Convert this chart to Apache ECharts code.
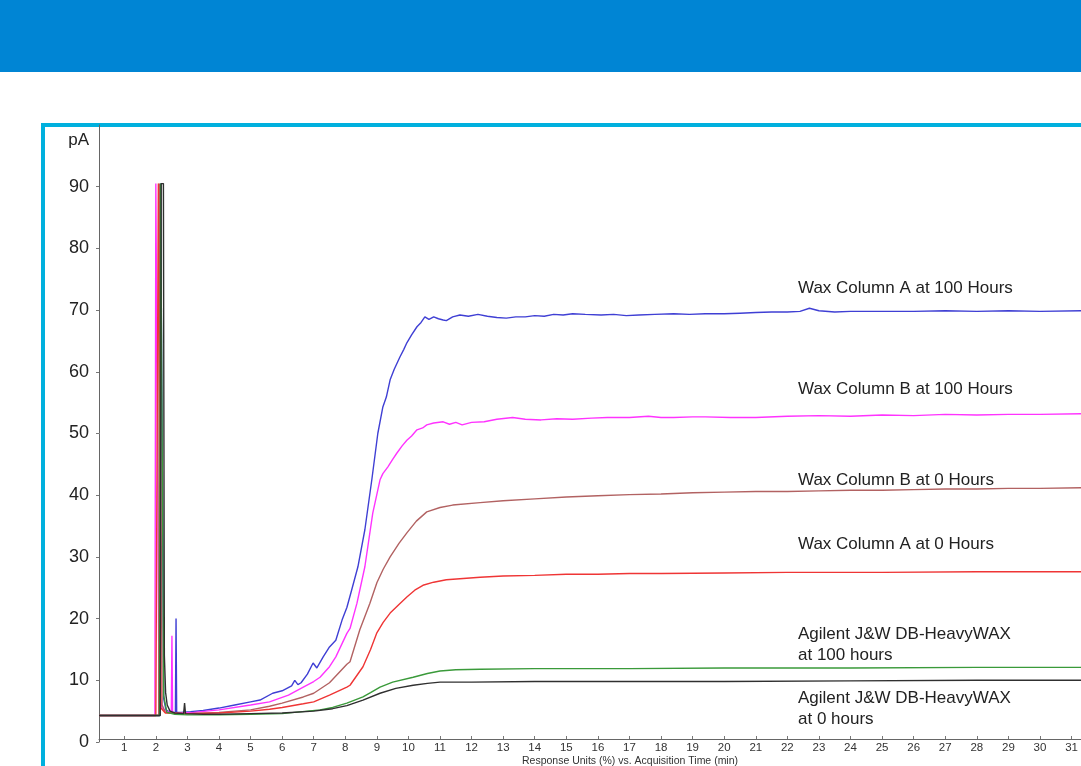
<!DOCTYPE html>
<html>
<head>
<meta charset="utf-8">
<script src="https://cdn.jsdelivr.net/npm/echarts@6/dist/echarts.min.js"></script>
<style>
  html, body { margin: 0; padding: 0; background: #fff; }
  #chart { width: 1081px; height: 766px; }
</style>
</head>
<body>
<div id="chart"></div>
<script>
// Column bleed chromatograms: [time (min), signal (pA)]
const waxA100 = [[0.2,4.3],[1.0,4.3],[2.0,4.3],[2.13,4.3],[2.15,90.5],[2.21,90.5],[2.25,7],[2.32,5.2],[2.45,4.8],[2.62,4.8],[2.64,20.0],[2.66,4.8],[2.8,4.8],[3.1,4.9],[3.5,5.1],[4.0,5.5],[4.5,6.0],[5.0,6.5],[5.3,6.8],[5.7,7.9],[6.0,8.3],[6.15,8.7],[6.3,9.1],[6.4,10.0],[6.5,9.3],[6.6,9.6],[6.8,11.0],[6.98,12.8],[7.1,12.0],[7.3,13.8],[7.5,15.4],[7.7,16.5],[7.9,19.8],[8.05,21.8],[8.2,24.6],[8.4,28.4],[8.62,34.4],[8.84,42.5],[9.03,50.0],[9.19,54.3],[9.3,55.9],[9.42,58.7],[9.55,60.4],[9.73,62.4],[9.85,63.6],[9.95,64.7],[10.1,66.0],[10.27,67.3],[10.4,68.0],[10.52,68.9],[10.65,68.5],[10.8,68.9],[10.95,68.6],[11.1,68.4],[11.2,68.3],[11.4,68.9],[11.63,69.2],[11.9,69.0],[12.2,69.3],[12.5,69.0],[12.8,68.8],[13.1,68.7],[13.4,68.9],[13.7,68.9],[14.0,69.1],[14.3,69.0],[14.6,69.3],[14.9,69.2],[15.2,69.4],[15.6,69.3],[16.1,69.2],[16.5,69.3],[16.9,69.1],[17.3,69.2],[17.8,69.3],[18.4,69.4],[18.9,69.3],[19.4,69.4],[20.0,69.4],[20.5,69.5],[21.0,69.6],[21.5,69.7],[22.0,69.7],[22.4,69.8],[22.7,70.3],[23.0,69.9],[23.5,69.7],[24.0,69.8],[25.0,69.8],[26.0,69.8],[27.0,69.9],[28.0,69.8],[29.0,69.9],[30.0,69.8],[31.3,69.9]];

const waxB100 = [[0.2,4.3],[1.5,4.3],[1.97,4.3],[2.0,90.5],[2.06,90.5],[2.1,8],[2.2,5.5],[2.35,4.9],[2.49,4.8],[2.51,17.2],[2.53,4.8],[2.8,4.7],[3.2,4.8],[4.0,5.2],[5.0,6.0],[5.6,6.5],[6.2,7.6],[6.67,8.9],[7.0,9.8],[7.2,10.5],[7.5,12.2],[7.7,13.8],[8.05,17.6],[8.15,18.4],[8.37,22.5],[8.62,28.4],[8.87,37.1],[9.1,42.5],[9.19,43.5],[9.35,44.6],[9.5,45.8],[9.63,46.8],[9.8,48.0],[9.95,48.9],[10.1,49.6],[10.27,50.6],[10.45,50.9],[10.58,51.4],[10.8,51.7],[11.1,51.9],[11.3,51.5],[11.5,51.8],[11.7,51.4],[12.0,51.8],[12.4,51.9],[12.8,52.3],[13.3,52.6],[13.7,52.3],[14.2,52.2],[14.7,52.4],[15.2,52.3],[15.8,52.5],[16.3,52.6],[17.0,52.6],[17.6,52.8],[18.0,52.6],[18.4,52.6],[19.0,52.7],[19.4,52.7],[20.2,52.6],[21.0,52.6],[22.0,52.8],[23.0,52.9],[24.0,52.8],[25.0,53.0],[26.0,52.9],[27.0,53.1],[28.0,53.0],[29.0,53.1],[30.0,53.1],[31.3,53.2]];

const waxB0 = [[0.2,4.3],[2.0,4.3],[2.09,4.3],[2.11,90.5],[2.16,90.5],[2.2,6],[2.3,4.8],[3.0,4.6],[4.0,4.8],[5.0,5.2],[5.6,5.8],[6.0,6.3],[6.67,7.3],[7.0,7.9],[7.5,9.6],[8.05,12.6],[8.15,13.0],[8.46,18.2],[8.78,22.5],[9.0,25.8],[9.2,28.0],[9.42,30.0],[9.7,32.2],[9.95,33.9],[10.25,35.8],[10.58,37.3],[11.0,38.0],[11.4,38.4],[12.27,38.8],[13.0,39.1],[14.0,39.4],[15.0,39.7],[16.0,39.9],[17.0,40.1],[18.0,40.2],[19.0,40.4],[20.0,40.5],[21.0,40.6],[22.0,40.6],[23.0,40.7],[24.0,40.8],[25.0,40.8],[26.0,40.9],[27.0,41.0],[28.0,41.0],[29.0,41.1],[30.0,41.1],[31.3,41.2]];

const waxA0 = [[0.2,4.3],[2.0,4.3],[2.05,4.3],[2.08,90.5],[2.12,90.5],[2.16,5.5],[2.3,4.7],[3.0,4.6],[4.0,4.7],[5.0,5.0],[5.6,5.3],[6.0,5.6],[6.67,6.2],[7.0,6.5],[7.5,7.6],[8.05,8.9],[8.15,9.2],[8.56,12.2],[8.8,15.0],[9.0,17.7],[9.2,19.4],[9.42,20.9],[9.7,22.3],[9.95,23.5],[10.2,24.6],[10.46,25.4],[10.8,25.9],[11.2,26.3],[12.27,26.7],[13.0,26.9],[14.0,27.0],[15.0,27.2],[16.0,27.2],[17.0,27.3],[18.0,27.3],[20.0,27.4],[22.0,27.5],[25.0,27.5],[28.0,27.6],[31.3,27.6]];

const heavyWax100 = [[0.2,4.3],[2.0,4.3],[2.12,4.3],[2.15,90.5],[2.21,90.5],[2.25,7.5],[2.35,4.8],[2.6,4.5],[3.0,4.4],[4.0,4.4],[5.0,4.5],[6.0,4.6],[7.2,5.2],[7.6,5.6],[8.05,6.3],[8.56,7.3],[8.8,8.0],[9.1,8.9],[9.5,9.7],[10.15,10.5],[10.6,11.1],[11.0,11.5],[11.5,11.7],[12.27,11.8],[14.0,11.9],[17.0,11.9],[20.0,12.0],[24.0,12.0],[28.0,12.1],[31.3,12.1]];

const heavyWax0 = [[0.2,4.3],[2.0,4.3],[2.14,4.3],[2.17,90.5],[2.24,90.5],[2.27,14],[2.31,8],[2.36,6],[2.45,5.0],[2.6,4.7],[2.88,4.6],[2.91,6.3],[2.94,4.6],[3.5,4.5],[4.0,4.5],[5.0,4.6],[6.0,4.7],[7.0,5.0],[7.6,5.4],[8.05,5.9],[8.56,6.8],[9.1,7.9],[9.6,8.7],[10.15,9.2],[10.6,9.5],[11.0,9.7],[12.0,9.7],[14.0,9.8],[17.0,9.8],[20.0,9.8],[24.0,9.9],[28.0,10.0],[31.3,10.0]];

// Axis ticks and labels
const timeTicks = [1,2,3,4,5,6,7,8,9,10,11,12,13,14,15,16,17,18,19,20,21,22,23,24,25,26,27,28,29,30,31];
const signalTicks = [0,10,20,30,40,50,60,70,80,90];

// Trace annotations: [text, x, y]
const traceLabels = [
  ['Wax Column A at 100 Hours', 798, 288],
  ['Wax Column B at 100 Hours', 798, 389],
  ['Wax Column B at 0 Hours', 798, 480],
  ['Wax Column A at 0 Hours', 798, 544],
  ['Agilent J&W DB-HeavyWAX\nat 100 hours', 798, 645],
  ['Agilent J&W DB-HeavyWAX\nat 0 hours', 798, 709]
];

const traces = [
  { name: 'Wax Column A at 100 Hours', data: waxA100, color: '#3f3fd4' },
  { name: 'Wax Column B at 100 Hours', data: waxB100, color: '#ff33ff' },
  { name: 'Wax Column B at 0 Hours', data: waxB0, color: '#b26262' },
  { name: 'Wax Column A at 0 Hours', data: waxA0, color: '#ef3535' },
  { name: 'DB-HeavyWAX at 100 hours', data: heavyWax100, color: '#3a9a3a' },
  { name: 'DB-HeavyWAX at 0 hours', data: heavyWax0, color: '#303030' }
];

const chart = echarts.init(document.getElementById('chart'), null, { renderer: 'canvas' });

const FONT = '"Liberation Sans", Arial, sans-serif';

const graphics = [
  { type: 'rect', shape: { x: 0, y: 0, width: 1081, height: 72 }, style: { fill: '#0085d4' }, silent: true, z: -10 },
  { type: 'rect', shape: { x: 43, y: 125, width: 1200, height: 800 }, style: { fill: 'none', stroke: '#00b0de', lineWidth: 4 }, silent: true, z: -10 },
  { type: 'text', x: 89, y: 140, style: { text: 'pA', font: '17px ' + FONT, fill: '#222', align: 'right', verticalAlign: 'middle' }, silent: true },
  { type: 'text', x: 630, y: 761, style: { text: 'Response Units (%) vs. Acquisition Time (min)', font: '10.5px ' + FONT, fill: '#333', align: 'center', verticalAlign: 'middle' }, silent: true }
];
traceLabels.forEach(([text, x, y]) => {
  graphics.push({
    type: 'text', x: x, y: y,
    style: { text: text, font: '17px ' + FONT, fill: '#222', align: 'left', verticalAlign: 'middle', lineHeight: 21 },
    silent: true
  });
});

chart.setOption({
  animation: false,
  backgroundColor: '#ffffff',
  grid: { left: 99, right: 0, top: 125, bottom: 24, containLabel: false },
  xAxis: {
    type: 'value',
    min: 0.2,
    max: 31.3,
    offset: -3,
    axisLine: { show: true, onZero: false, lineStyle: { color: '#666', width: 1 } },
    axisTick: { show: true, inside: true, length: 3, customValues: timeTicks, lineStyle: { color: '#777' } },
    axisLabel: { customValues: timeTicks, fontSize: 11.5, color: '#333', margin: 3, fontFamily: FONT },
    splitLine: { show: false }
  },
  yAxis: {
    type: 'value',
    min: 0,
    max: 100,
    axisLine: { show: true, lineStyle: { color: '#666', width: 1 } },
    axisTick: { show: true, length: 3, customValues: signalTicks, lineStyle: { color: '#777' } },
    axisLabel: { customValues: signalTicks, fontSize: 18, color: '#222', margin: 10, fontFamily: FONT },
    splitLine: { show: false }
  },
  graphic: graphics,
  series: traces.map(t => ({
    type: 'line',
    name: t.name,
    data: t.data,
    showSymbol: false,
    symbol: 'none',
    smooth: false,
    clip: true,
    lineStyle: { color: t.color, width: 1.4 },
    itemStyle: { color: t.color },
    emphasis: { disabled: true }
  }))
});
</script>
</body>
</html>
